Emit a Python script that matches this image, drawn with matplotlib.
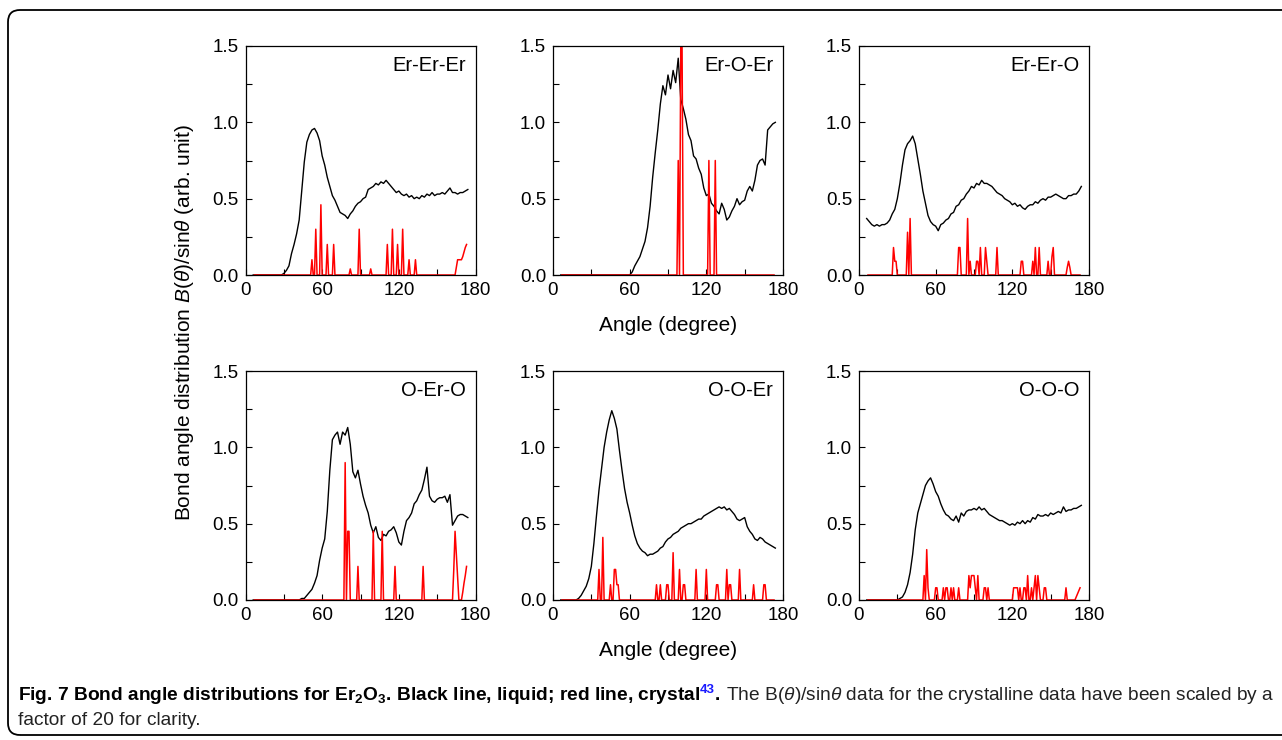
import numpy as np
import matplotlib
matplotlib.use('Agg')
import matplotlib.pyplot as plt
from matplotlib import font_manager
from matplotlib.patches import FancyBboxPatch
from matplotlib.transforms import IdentityTransform
from matplotlib.ticker import MultipleLocator, FormatStrFormatter

# liquid curves, sampled every 2 degrees from 6 to 174
angles = np.arange(6, 175, 2)

liquid_eee = [0.0] * 12 + [
    0.01, 0.03, 0.06, 0.14, 0.20, 0.27, 0.36, 0.55, 0.74, 0.87, 0.92, 0.95, 0.96,
    0.93, 0.88, 0.78, 0.72, 0.64, 0.58, 0.52, 0.49, 0.45, 0.41, 0.40, 0.39, 0.37,
    0.40, 0.42, 0.45, 0.47, 0.48, 0.50, 0.51, 0.56, 0.57, 0.58, 0.60, 0.59, 0.61,
    0.60, 0.62, 0.60, 0.58, 0.56, 0.54, 0.55, 0.53, 0.52, 0.53, 0.51, 0.52, 0.50,
    0.51, 0.50, 0.52, 0.51, 0.53, 0.52, 0.54, 0.52, 0.53, 0.53, 0.54, 0.53, 0.55,
    0.57, 0.54, 0.54, 0.53, 0.54, 0.54, 0.55, 0.56]

liquid_eoe = [0.0] * 27 + [
    0.0, 0.02, 0.06, 0.09, 0.12, 0.17, 0.22, 0.31, 0.45, 0.64, 0.80, 0.95, 1.12,
    1.24, 1.18, 1.31, 1.22, 1.34, 1.26, 1.42, 1.15, 1.09, 1.02, 0.92, 0.88, 0.78,
    0.76, 0.70, 0.66, 0.57, 0.52, 0.53, 0.47, 0.45, 0.42, 0.40, 0.47, 0.43, 0.36,
    0.38, 0.42, 0.45, 0.50, 0.46, 0.48, 0.49, 0.55, 0.58, 0.55, 0.62, 0.72, 0.75,
    0.76, 0.72, 0.95, 0.97, 0.99, 1.00]

liquid_eeo = [
    0.37, 0.35, 0.33, 0.32, 0.33, 0.32, 0.33, 0.33, 0.34, 0.36, 0.40, 0.43, 0.50,
    0.60, 0.72, 0.82, 0.86, 0.88, 0.91, 0.86, 0.76, 0.66, 0.55, 0.47, 0.39, 0.35,
    0.33, 0.32, 0.29, 0.33, 0.34, 0.36, 0.37, 0.40, 0.41, 0.45, 0.46, 0.49, 0.50,
    0.53, 0.55, 0.58, 0.57, 0.60, 0.59, 0.62, 0.60, 0.60, 0.59, 0.58, 0.56, 0.54,
    0.53, 0.52, 0.50, 0.49, 0.48, 0.46, 0.47, 0.45, 0.46, 0.44, 0.43, 0.45, 0.46,
    0.46, 0.48, 0.47, 0.49, 0.50, 0.49, 0.51, 0.51, 0.52, 0.53, 0.52, 0.51, 0.50,
    0.50, 0.52, 0.52, 0.53, 0.53, 0.55, 0.58]

liquid_oeo = [0.0] * 18 + [
    0.0, 0.01, 0.01, 0.03, 0.05, 0.07, 0.11, 0.16, 0.26, 0.34, 0.40, 0.58, 0.85,
    1.05, 1.08, 1.10, 1.02, 1.10, 1.08, 1.13, 1.02, 0.84, 0.80, 0.85, 0.76, 0.68,
    0.62, 0.57, 0.49, 0.44, 0.48, 0.41, 0.39, 0.43, 0.42, 0.45, 0.46, 0.48, 0.44,
    0.38, 0.36, 0.45, 0.52, 0.54, 0.57, 0.63, 0.65, 0.69, 0.72, 0.79, 0.87, 0.68,
    0.65, 0.64, 0.66, 0.67, 0.67, 0.68, 0.64, 0.69, 0.49, 0.52, 0.55, 0.56, 0.56,
    0.55, 0.54]

liquid_ooe = [0.0] * 7 + [
    0.01, 0.03, 0.06, 0.09, 0.14, 0.22, 0.37, 0.55, 0.72, 0.86, 1.00, 1.10, 1.18,
    1.24, 1.19, 1.12, 0.98, 0.85, 0.73, 0.64, 0.57, 0.49, 0.42, 0.37, 0.34, 0.32,
    0.31, 0.29, 0.30, 0.30, 0.31, 0.32, 0.34, 0.35, 0.38, 0.40, 0.41, 0.43, 0.44,
    0.45, 0.47, 0.48, 0.49, 0.50, 0.50, 0.51, 0.52, 0.53, 0.53, 0.55, 0.56, 0.57,
    0.58, 0.59, 0.60, 0.61, 0.60, 0.61, 0.59, 0.60, 0.58, 0.56, 0.53, 0.52, 0.53,
    0.54, 0.48, 0.45, 0.43, 0.40, 0.39, 0.41, 0.40, 0.38, 0.37, 0.36, 0.35, 0.34]

liquid_ooo = [0.0] * 13 + [
    0.01, 0.02, 0.05, 0.10, 0.18, 0.30, 0.46, 0.57, 0.63, 0.69, 0.75, 0.78, 0.80,
    0.76, 0.71, 0.68, 0.63, 0.59, 0.56, 0.55, 0.53, 0.52, 0.55, 0.51, 0.57, 0.55,
    0.58, 0.59, 0.59, 0.60, 0.59, 0.61, 0.59, 0.60, 0.58, 0.56, 0.55, 0.54, 0.53,
    0.52, 0.52, 0.51, 0.50, 0.49, 0.50, 0.49, 0.51, 0.50, 0.52, 0.50, 0.52, 0.51,
    0.54, 0.53, 0.56, 0.55, 0.55, 0.56, 0.55, 0.57, 0.56, 0.57, 0.58, 0.57, 0.61,
    0.58, 0.59, 0.59, 0.60, 0.60, 0.61, 0.62]

# crystal curves (x20), 1-degree grid from 7 to 173, only non-zero bins listed
crystal_grid = np.arange(7, 174)

crystal_eee = {52: 0.10, 55: 0.30, 59: 0.46, 64: 0.20, 69: 0.20, 82: 0.04, 89: 0.30,
               98: 0.04, 111: 0.20, 115: 0.30, 119: 0.20, 123: 0.30, 128: 0.10,
               133: 0.10, 165: 0.05, 166: 0.10, 167: 0.10, 168: 0.10, 169: 0.10,
               170: 0.12, 171: 0.15, 172: 0.18, 173: 0.20}
crystal_eoe = {98: 0.75, 100: 1.5, 101: 1.5, 122: 0.75, 127: 0.75}
crystal_eeo = {27: 0.18, 28: 0.09, 29: 0.09, 38: 0.28, 40: 0.37, 78: 0.18, 79: 0.18,
               85: 0.37, 87: 0.09, 92: 0.09, 93: 0.09, 95: 0.18, 99: 0.18, 100: 0.09,
               108: 0.18, 127: 0.09, 128: 0.09, 136: 0.09, 138: 0.18, 141: 0.18,
               148: 0.09, 151: 0.12, 152: 0.18, 163: 0.05, 164: 0.09, 165: 0.05}
crystal_oeo = {78: 0.90, 80: 0.45, 81: 0.45, 88: 0.22, 100: 0.45, 107: 0.45,
               117: 0.22, 139: 0.22, 163: 0.20, 164: 0.45, 165: 0.30, 166: 0.15,
               170: 0.05, 171: 0.11, 172: 0.16, 173: 0.22}
crystal_ooe = {36: 0.20, 39: 0.41, 45: 0.10, 48: 0.20, 49: 0.20, 50: 0.10, 51: 0.10,
               81: 0.10, 84: 0.10, 89: 0.10, 90: 0.10, 94: 0.31, 99: 0.20, 102: 0.10,
               103: 0.10, 112: 0.20, 120: 0.20, 128: 0.10, 129: 0.10, 136: 0.20,
               138: 0.10, 139: 0.10, 146: 0.20, 157: 0.10, 165: 0.10, 166: 0.10}
crystal_ooo = {51: 0.16, 53: 0.33, 54: 0.08, 60: 0.08, 61: 0.08, 66: 0.08, 68: 0.08,
               69: 0.08, 72: 0.08, 74: 0.08, 78: 0.08, 86: 0.16, 87: 0.08, 88: 0.16,
               89: 0.16, 90: 0.16, 91: 0.08, 93: 0.16, 98: 0.08, 99: 0.08, 101: 0.08,
               121: 0.08, 122: 0.08, 123: 0.08, 124: 0.08, 126: 0.08, 129: 0.08,
               130: 0.08, 132: 0.16, 135: 0.08, 137: 0.08, 138: 0.16, 140: 0.16,
               141: 0.08, 145: 0.08, 146: 0.08, 162: 0.08, 170: 0.02, 171: 0.04,
               172: 0.06, 173: 0.08}

panel_names = ["Er-Er-Er", "Er-O-Er", "Er-Er-O", "O-Er-O", "O-O-Er", "O-O-O"]
liquid = [liquid_eee, liquid_eoe, liquid_eeo, liquid_oeo, liquid_ooe, liquid_ooo]
crystal = [crystal_eee, crystal_eoe, crystal_eeo, crystal_oeo, crystal_ooe, crystal_ooo]

installed = {f.name for f in font_manager.fontManager.ttflist}
narrow = 'Liberation Sans Narrow' if 'Liberation Sans Narrow' in installed else 'Liberation Sans'

plt.rcParams['font.family'] = ['Liberation Sans', 'DejaVu Sans']
plt.rcParams['mathtext.fontset'] = 'custom'
plt.rcParams['mathtext.rm'] = 'Liberation Sans'
plt.rcParams['mathtext.it'] = 'Liberation Sans:italic'
plt.rcParams['mathtext.bf'] = 'Liberation Sans:bold'

W, H = 1282, 740
fig = plt.figure(figsize=(W / 100, H / 100), dpi=100)

col_left = [245.5, 553, 859]
row_bottom = [275, 600]
aw, ah = 230, 229

for i, name in enumerate(panel_names):
    r, c = divmod(i, 3)
    ax = fig.add_axes([col_left[c] / W, 1 - row_bottom[r] / H, aw / W, ah / H])
    ax.plot(angles, liquid[i], color='black', lw=1.0)
    red = np.zeros(len(crystal_grid))
    for a, h in crystal[i].items():
        red[a - crystal_grid[0]] = h
    ax.plot(crystal_grid, red, color='#ff0000', lw=1.1)
    ax.set_xlim(0, 180)
    ax.set_ylim(0, 1.5)
    ax.xaxis.set_major_locator(MultipleLocator(60))
    ax.xaxis.set_minor_locator(MultipleLocator(30))
    ax.yaxis.set_major_locator(MultipleLocator(0.5))
    ax.yaxis.set_minor_locator(MultipleLocator(0.25))
    ax.yaxis.set_major_formatter(FormatStrFormatter('%.1f'))
    ax.tick_params(which='both', direction='in', length=4, width=0.8,
                   top=False, right=False, labelsize=13.5, pad=5)
    for s in ax.spines.values():
        s.set_linewidth(0.9)
    ax.text(0.958, 0.915, name, transform=ax.transAxes, ha='right', va='center',
            fontsize=14.5)

for y in (325, 651):
    fig.text(668 / W, 1 - y / H, "Angle (degree)", ha='center', va='center', fontsize=15)
fig.text(185 / W, 1 - 323 / H, r"Bond angle distribution $B(\theta)$/sin$\theta$ (arb. unit)",
         rotation=90, ha='center', va='center', fontsize=15)

# rounded frame around the figure
frame = FancyBboxPatch((8, 5), 1300, 725, boxstyle="round,pad=0,rounding_size=12",
                       transform=IdentityTransform(), fill=False, ec='black', lw=1.3)
fig.add_artist(frame)

# caption, written in pieces so bold / regular / superscript can be mixed
cap_line1 = [
    ("Fig. 7 Bond angle distributions for Er$_\\mathbf{2}$O$_\\mathbf{3}$. Black line, liquid; red line, crystal",
     dict(weight='bold', color='black'), 0, 1.0),
    ("43", dict(weight='bold', color='#1a1aff'), 7, 0.7),
    (".", dict(weight='bold', color='black'), 0, 1.0),
    (" The B($\\theta$)/sin$\\theta$ data for the crystalline data have been scaled by a",
     dict(weight='normal', color='#222222'), 0, 1.0),
]
renderer = fig.canvas.get_renderer()


def draw_line(pieces, x0, y0, size):
    x = x0
    made = []
    for s, kw, dy, scale in pieces:
        t = fig.text(x / W, (H - y0 + dy) / H, s, fontsize=size * scale,
                     family=[narrow, 'DejaVu Sans'], ha='left', va='baseline', **kw)
        x += t.get_window_extent(renderer).width
        made.append(t)
    return x, made


base = 12.0
end, tmp = draw_line(cap_line1, 18, 700, base)
for t in tmp:
    t.remove()
size = min(base * (1276 - 18) / (end - 18), 14.0)
draw_line(cap_line1, 18, 700, size)
draw_line([("factor of 20 for clarity.", dict(weight='normal', color='#222222'), 0, 1.0)],
          18, 725, size)

fig.savefig('out.png', dpi=100)
